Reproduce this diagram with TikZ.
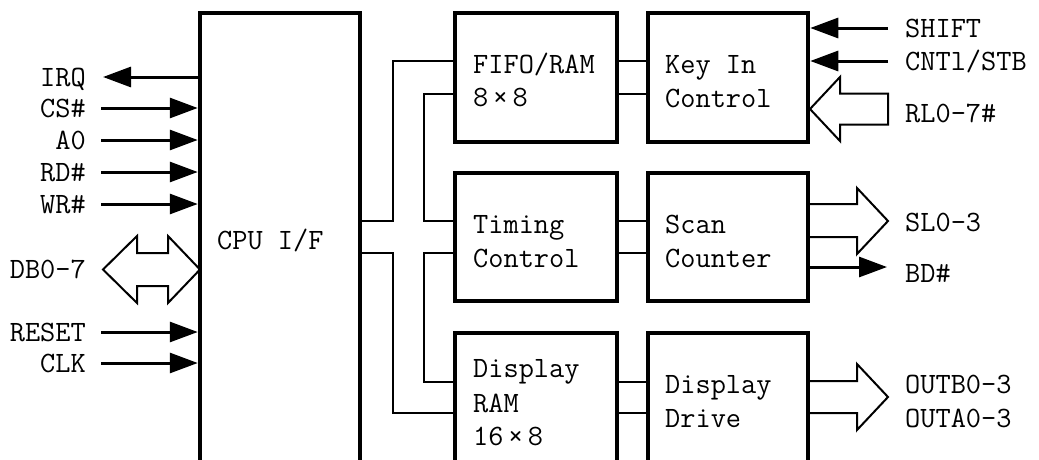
\documentclass[tikz,border=0pt]{standalone}
\usepackage{fontspec}
\usetikzlibrary{arrows.meta}
\begin{document}
\begin{tikzpicture}[x=1pt,y=-1pt,
  blk/.style={draw,line width=4.5pt,inner sep=0pt},
  sig/.style={line width=3pt},
  bus/.style={line width=2.2pt},
  fat/.style={line width=2pt,line join=miter},
  arr/.style={-{Triangle[length=28pt,width=20pt]}},
  lbl/.style={inner sep=0pt,font=\fontsize{29.5}{34}\selectfont\ttfamily},
  lw/.style={lbl,anchor=base west},
  le/.style={lbl,anchor=base east}]
\useasboundingbox (0,0) rectangle (1039,459);
\clip (0,0) rectangle (1039,459);
% boxes
\node[blk,minimum width=160pt,minimum height=457pt] (cpu) at (280,241.5) {};
\node[blk,minimum width=162pt,minimum height=129pt] (fifo) at (536,77.5) {};
\node[blk,minimum width=160pt,minimum height=129pt] (keyin) at (728,77.5) {};
\node[blk,minimum width=162pt,minimum height=128pt] (timing) at (536,237) {};
\node[blk,minimum width=160pt,minimum height=128pt] (scan) at (728,237) {};
\node[blk,minimum width=162pt,minimum height=137pt] (dram) at (536,401.5) {};
\node[blk,minimum width=160pt,minimum height=137pt] (ddrive) at (728,401.5) {};
% box texts
\node[lw] (tcpu) at (217,249) {CPU I/F};
\node[lw] (tfifo1) at (473,73) {FIFO/RAM};
\node[lw] (tfifo2) at (473,106) {8\hspace{4.5pt}×\hspace{4.5pt}8};
\node[lw] (tkey1) at (665,73) {Key In};
\node[lw] (tkey2) at (665,107) {Control};
\node[lw] (ttim1) at (473,233) {Timing};
\node[lw] (ttim2) at (473,267) {Control};
\node[lw] (tscan1) at (665,233) {Scan};
\node[lw] (tscan2) at (665,267) {Counter};
\node[lw] (tdram1) at (473,377) {Display};
\node[lw] (tdram2) at (473,412) {RAM};
\node[lw] (tdram3) at (473,445) {16\hspace{4.5pt}×\hspace{4.5pt}8};
\node[lw] (tdd1) at (665,393) {Display};
\node[lw] (tdd2) at (665,427) {Drive};
% buses
\draw[bus] (cpu.east |- 0,221) -| (393,61) -- (fifo.west |- 0,61);
\draw[bus] (cpu.east |- 0,253) -| (393,413) -- (dram.west |- 0,413);
\draw[bus] (fifo.west |- 0,94) -| (424,221) -- (timing.west |- 0,221);
\draw[bus] (timing.west |- 0,253) -| (424,382) -- (dram.west |- 0,382);
\draw[bus] (fifo.east |- 0,61) -- (keyin.west |- 0,61);
\draw[bus] (fifo.east |- 0,94) -- (keyin.west |- 0,94);
\draw[bus] (timing.east |- 0,221) -- (scan.west |- 0,221);
\draw[bus] (timing.east |- 0,253) -- (scan.west |- 0,253);
\draw[bus] (dram.east |- 0,382) -- (ddrive.west |- 0,382);
\draw[bus] (dram.east |- 0,413) -- (ddrive.west |- 0,413);
% left signals
\coordinate (irqend) at (103,77);
\coordinate (csin) at (101,108);
\coordinate (a0in) at (101,140);
\coordinate (rdin) at (101,172);
\coordinate (wrin) at (101,204);
\coordinate (rstin) at (101,332);
\coordinate (clkin) at (101,363);
\draw[sig,arr] (cpu.west |- irqend) -- (irqend);
\draw[sig,arr] (csin) -- (cpu.west |- csin);
\draw[sig,arr] (a0in) -- (cpu.west |- a0in);
\draw[sig,arr] (rdin) -- (cpu.west |- rdin);
\draw[sig,arr] (wrin) -- (cpu.west |- wrin);
\draw[sig,arr] (rstin) -- (cpu.west |- rstin);
\draw[sig,arr] (clkin) -- (cpu.west |- clkin);
\draw[fat] (103,269.5) -- (137,236) -- (137,253) -- (168,253) -- (168,236) -- (200,269.5)
  -- (168,303) -- (168,286) -- (137,286) -- (137,303) -- cycle;
\node[le] (lirq) at (86,86) {IRQ};
\node[le] (lcs) at (86,117) {CS\#};
\node[le] (la0) at (86,149) {A0};
\node[le] (lrd) at (86,181) {RD\#};
\node[le] (lwr) at (86,213) {WR\#};
\node[le] (ldb) at (86,278) {DB0-7};
\node[le] (lrst) at (86,341) {RESET};
\node[le] (lclk) at (86,372) {CLK};
% right signals
\coordinate (shin) at (888,28);
\coordinate (cntin) at (888,61);
\coordinate (bdend) at (887,267);
\draw[sig,arr] (shin) -- (keyin.east |- shin);
\draw[sig,arr] (cntin) -- (keyin.east |- cntin);
\draw[sig,arr] (scan.east |- bdend) -- (bdend);
\draw[fat] (888,93.5) -- (840,93.5) -- (840,77) -- (810,109) -- (840,141) -- (840,124.5) -- (888,124.5) -- cycle;
\draw[fat] (808,204) -- (857,204) -- (857,188) -- (888,221) -- (857,254) -- (857,237) -- (808,237);
\draw[fat] (808,381) -- (857,381) -- (857,364) -- (888,397) -- (857,430) -- (857,413) -- (808,413);
\node[lw] (lsh) at (905,37) {SHIFT};
\node[lw] (lcnt) at (905,70) {CNTl/STB};
\node[lw] (lrl) at (905,122) {RL0-7\#};
\node[lw] (lsl) at (905,231) {SL0-3};
\node[lw] (lbd) at (905,282) {BD\#};
\node[lw] (lob) at (905,393) {OUTB0-3};
\node[lw] (loa) at (905,427) {OUTA0-3};
\end{tikzpicture}
\end{document}
